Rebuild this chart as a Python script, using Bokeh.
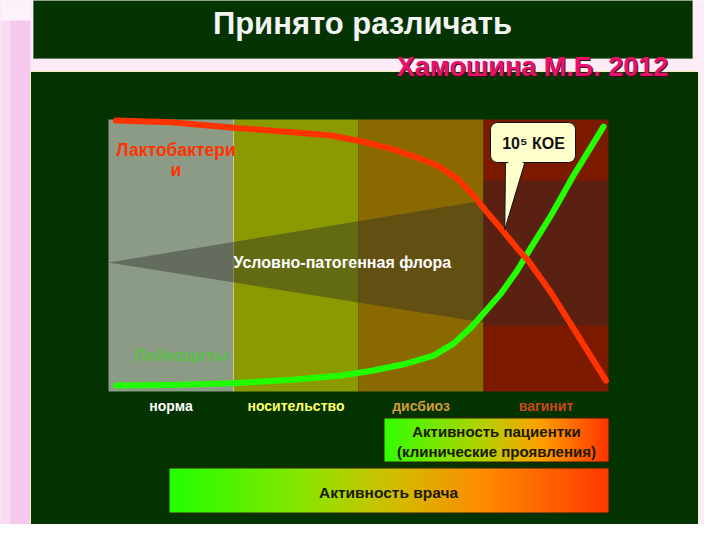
import numpy as np
from bokeh.plotting import figure
from bokeh.models import Range1d, ColumnDataSource
from bokeh.core.properties import value
from bokeh.embed import file_html
from bokeh.resources import INLINE

# ---------------- data ----------------
stages = ["норма", "носительство", "дисбиоз", "вагинит"]
stage_start = [0, 1, 2, 3]
stage_end = [1, 2, 3, 4]

lacto_x = [0.06, 0.5, 1.0, 1.5, 1.78, 1.99, 2.26, 2.47, 2.63, 2.79, 2.92, 3.03, 3.14,
           3.27, 3.36, 3.54, 3.72, 3.98]
lacto_y = [99.6, 99.0, 97.0, 95.2, 94.1, 92.3, 89.3, 86.0, 83.1, 78.3, 72.1, 65.8, 59.9,
           52.6, 48.0, 36.4, 23.2, 4.0]

leuko_x = [0.06, 0.5, 1.0, 1.5, 1.86, 2.12, 2.39, 2.6, 2.76, 2.9, 3.0, 3.14, 3.27, 3.38,
           3.54, 3.72, 3.96]
leuko_y = [2.2, 2.4, 3.0, 4.4, 5.9, 7.7, 10.3, 13.2, 17.6, 23.5, 28.7, 36.0, 44.5, 52.9,
           64.7, 79.4, 97.4]

upf_x = [0.0, 3.0, 3.0, 4.0, 4.0, 3.0, 3.0]
upf_y = [47.4, 70.2, 77.6, 77.6, 24.3, 24.3, 25.4]

cfu_x = 3.17
cfu_y = 59.5

# ---------------- styles ----------------
band_colors = ["#8c9b85", "#8a9a00", "#8a6a00", "#7c1a00"]
label_colors = ["#ffffff", "#ffff66", "#d09a3a", "#c8481a"]
FONT = value("Liberation Sans")

# page-pixel helpers for decorative layout
def X(px):
    return (px - 108) / 125.0

def Y(py):
    return (391 - py) / 2.72

p = figure(width=704, height=524,
           x_range=Range1d(X(0), X(704)), y_range=Range1d(Y(524), Y(0)),
           x_axis_type=None, y_axis_type=None,
           output_backend="svg", toolbar_location=None, min_border=0)
p.grid.visible = False
p.outline_line_color = None
p.background_fill_color = "#fcecf8"
p.border_fill_color = "#fcecf8"

# page decorations
p.quad(left=X(0), right=X(30), top=Y(0), bottom=Y(524), fill_color="#f6c8ee", line_color=None)
p.quad(left=X(0), right=X(10), top=Y(0), bottom=Y(524), fill_color="#f9dcf3", line_color=None)
p.quad(left=X(0), right=X(30), top=Y(0), bottom=Y(20), fill_color="#fdf2fb", line_color=None)
p.quad(left=X(33), right=X(692), top=Y(0), bottom=Y(58), fill_color="#033300", line_color="#6a7a5a", line_width=1)
p.quad(left=X(30), right=X(698), top=Y(71), bottom=Y(540), fill_color="#033300", line_color="#f0f0b8", line_width=1)

p.text(x=[X(362)], y=[Y(23)], text=["Принято различать"], text_font=FONT, text_font_size="31px",
       text_font_style="bold", text_color="#f4f4f4", text_align="center", text_baseline="middle")
p.text(x=[X(533)], y=[Y(67)], text=["Хамошина М.Б. 2012"], text_font=FONT, text_font_size="27px",
       text_font_style="bold", text_color="#3a0a1a", text_align="center", text_baseline="middle")
p.text(x=[X(532)], y=[Y(66)], text=["Хамошина М.Б. 2012"], text_font=FONT, text_font_size="27px",
       text_font_style="bold", text_color="#e8106a", text_align="center", text_baseline="middle")

# stage bands
p.quad(left=stage_start, right=stage_end, top=100, bottom=0, fill_color=band_colors, line_color=None)
p.segment(x0=[1], y0=[0], x1=[1], y1=[100], line_color="#c8c880", line_width=1)

# opportunistic flora wedge
p.patch(x=upf_x, y=upf_y, fill_color="#2a2a2a", fill_alpha=0.42, line_color=None)
p.text(x=[X(233)], y=[Y(262)], text=["Условно-патогенная флора"], text_font=FONT, text_font_size="16px",
       text_font_style="bold", text_color="#ffffff", text_align="left", text_baseline="middle")

# curves
p.line(leuko_x, leuko_y, line_color="#22ff00", line_width=6, line_join="round", line_cap="round")
p.line(lacto_x, lacto_y, line_color="#ff3300", line_width=6, line_join="round", line_cap="round")

p.text(x=[0.54, 0.54], y=[Y(149), Y(169)], text=["Лактобактери", "и"], text_font=FONT,
       text_font_size="17.5px", text_font_style="bold", text_color="#ff3300",
       text_align="center", text_baseline="middle")
p.text(x=[0.58], y=[Y(355)], text=["Лейкоциты"], text_font=FONT, text_font_size="17px",
       text_font_style="bold", text_color="#22ee00", text_alpha=0.45,
       text_align="center", text_baseline="middle")

# callout 10^5 CFU
p.patch(x=[X(505), X(525), cfu_x], y=[Y(160), Y(160), cfu_y], fill_color="#ffffcc",
        line_color="#111111", line_width=1)
p.quad(left=X(490), right=X(575), top=Y(122), bottom=Y(162), fill_color="#ffffcc",
       line_color="#111111", line_width=1, border_radius=7)
p.patch(x=[X(506), X(524), X(515)], y=[Y(160), Y(160), Y(170)], fill_color="#ffffcc", line_color=None)
p.text(x=[X(533)], y=[Y(143)], text=["10⁵ КОЕ"], text_font=FONT, text_font_size="16px",
       text_font_style="bold", text_color="#111111", text_align="center", text_baseline="middle")

# stage labels
src = ColumnDataSource(dict(x=[s + 0.5 for s in stage_start], y=[Y(405)] * 4, t=stages, c=label_colors))
p.text(x="x", y="y", text="t", text_color="c", source=src, text_font=FONT, text_font_size="14px",
       text_font_style="bold", text_align="center", text_baseline="middle")

# gradient boxes
def gradient(n, stops):
    pos = [s[0] for s in stops]
    cols = [s[1] for s in stops]
    rgb = np.array([[int(c[i:i + 2], 16) for i in (1, 3, 5)] for c in cols], dtype=float)
    t = np.linspace(0, 1, n)
    img = np.zeros((1, n), dtype=np.uint32)
    view = img.view(dtype=np.uint8).reshape((1, n, 4))
    for k in range(3):
        view[0, :, k] = np.interp(t, pos, rgb[:, k]).astype(np.uint8)
    view[0, :, 3] = 255
    return img

stops1 = [(0, "#33ff00"), (0.45, "#b8d000"), (0.7, "#ffa000"), (1, "#ff3300")]
stops2 = [(0, "#22ff00"), (0.3, "#88e600"), (0.5, "#d0c000"), (0.72, "#ff8a00"), (1, "#ff3a00")]

p.image_rgba(image=[gradient(300, stops1)], x=X(383), y=Y(462), dw=X(609) - X(383), dh=Y(417) - Y(462))
p.quad(left=X(383), right=X(609), top=Y(417), bottom=Y(462), fill_color=None, line_color="#1a2a00", line_width=2)
p.text(x=[X(496), X(496)], y=[Y(431), Y(451)], text=["Активность пациентки", "(клинические проявления)"],
       text_font=FONT, text_font_size="15px", text_font_style="bold", text_color="#1a1a00",
       text_align="center", text_baseline="middle")

p.image_rgba(image=[gradient(500, stops2)], x=X(168), y=Y(513), dw=X(609) - X(168), dh=Y(467) - Y(513))
p.quad(left=X(168), right=X(609), top=Y(467), bottom=Y(513), fill_color=None, line_color="#1a2a00", line_width=2)
p.text(x=[X(388)], y=[Y(492)], text=["Активность врача"], text_font=FONT, text_font_size="15.5px",
       text_font_style="bold", text_color="#1a1a00", text_align="center", text_baseline="middle")

open("out.html", "w").write(file_html(p, INLINE))
